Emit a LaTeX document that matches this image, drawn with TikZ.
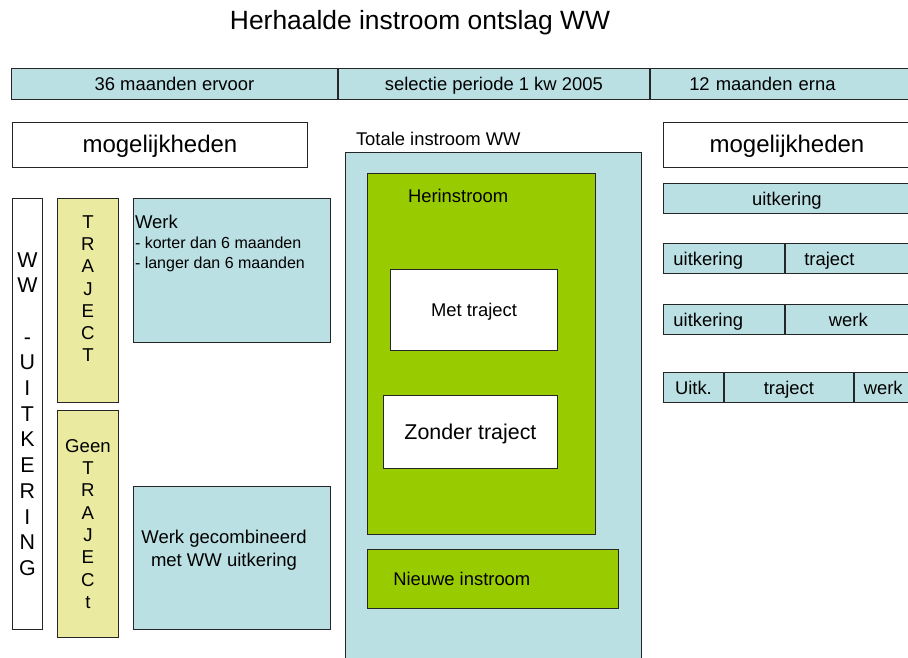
\documentclass[tikz,border=0pt]{standalone}
\usepackage{fontspec}
\setmainfont{Liberation Sans}
\usetikzlibrary{positioning}

\definecolor{lichtblauw}{HTML}{BBE0E3}
\definecolor{groen}{HTML}{99CC00}
\definecolor{geel}{HTML}{EAEAA0}

\newcommand{\fsz}[2]{\fontsize{#1}{#2}\selectfont}

\begin{document}
\begin{tikzpicture}[x=1pt, y=-1pt,
	vak/.style={rectangle, draw=black!85, line width=0.9pt, inner sep=0pt, text height=17.2pt, text depth=3.3pt, font=\fsz{18.4}{22}},
	blauw/.style={vak, fill=lichtblauw},
	groenvak/.style={vak, fill=groen},
	geelvak/.style={vak, fill=geel},
	wit/.style={vak, fill=white},
	groot/.style={font=\fsz{24}{28}, text height=21.2pt, text depth=5.6pt},
	middel/.style={font=\fsz{21.4}{25}, text height=19.4pt, text depth=4.5pt},
	tekst/.style={inner sep=0pt, outer sep=0pt, font=\fsz{18.4}{22}}]
	\useasboundingbox (0,0) rectangle (908,657);

	\node [tekst, font=\fsz{26.4}{30}, anchor=base] (titel) at (420,29.3) {Herhaalde instroom ontslag WW};

	% periodes
	\node [blauw, anchor=north west, minimum width=326, minimum height=31] (p1) at (11,68) {36 maanden ervoor};
	\node [blauw, right=0pt of p1, minimum width=311, minimum height=31] (p2) {selectie periode 1 kw 2005};
	\node [blauw, right=0pt of p2, minimum width=262, minimum height=31, text width=184, align=left] (p3) {12 maanden erna};

	\node [wit, groot, anchor=north west, minimum width=295, minimum height=45] (mog_l) at (12,122) {mogelijkheden};
	\node [wit, groot, anchor=north west, minimum width=247, minimum height=45] (mog_r) at (663,122) {mogelijkheden};

	% links
	\node [wit, anchor=north west, minimum width=30, minimum height=431] (ww) at (12,198) {};
	\node [geelvak, anchor=north west, minimum width=61, minimum height=204] (traj) at (57,198) {};
	\node [geelvak, anchor=north west, minimum width=61, minimum height=227] (geen) at (57,410) {};
	\node [blauw, anchor=north west, minimum width=197, minimum height=144] (werk) at (133,198) {};
	\node [blauw, anchor=north west, minimum width=197, minimum height=143] (werk_c) at (133,486) {};

	\node [tekst, below=54.3pt of ww.north, align=center, font=\fsz{21.4}{25.7}] (ww_t)
		{W\\W\\[25.7pt]-\\U\\I\\T\\K\\E\\R\\I\\N\\G};
	\node [tekst, below=17.3pt of traj.north, align=center, font=\fsz{18.6}{22.3}] (traj_t)
		{T\\R\\A\\J\\E\\C\\T};
	\node [tekst, below=29.3pt of geen.north, align=center, font=\fsz{18.6}{22.3}] (geen_t)
		{Geen\\T\\R\\A\\J\\E\\C\\t};
	\node [tekst, anchor=north west, align=left, font=\fsz{16}{20}] (werk_t) at (135,215)
		{{\fsz{18.5}{20}Werk}\\- korter dan 6 maanden\\- langer dan 6 maanden};
	\node [tekst, anchor=north, align=center, font=\fsz{18.5}{22.7}] (werk_c_t) at (224,530)
		{Werk gecombineerd\\met WW uitkering};

	% midden
	\node [blauw, anchor=north west, minimum width=296, minimum height=520] (totaal) at (345,152) {};
	\node [tekst, anchor=base west] (totaal_t) at (356,145) {Totale instroom WW};
	\node [groenvak, anchor=north west, minimum width=228, minimum height=361] (her) at (367,173) {};
	\node [tekst, anchor=base west] (her_t) at (408,202) {Herinstroom};
	\node [wit, anchor=north west, minimum width=167, minimum height=81] (met) at (390,269) {Met traject};
	\node [wit, middel, anchor=north west, minimum width=174, minimum height=73] (zonder) at (383,395) {Zonder traject};
	\node [groenvak, anchor=north west, minimum width=251, minimum height=59] (nieuw) at (367,549) {};
	\node [tekst, anchor=base west] (nieuw_t) at (393.3,585.7) {Nieuwe instroom};

	% rechts
	\node [blauw, anchor=north west, minimum width=247, minimum height=30] (r1) at (663,183) {uitkering};

	\node [blauw, anchor=north west, minimum width=121, minimum height=30, text width=101, align=left] (r2_a) at (663,243) {uitkering};
	\node [blauw, right=0pt of r2_a, minimum width=126, minimum height=30, text width=88, align=left] (r2_b) {traject};

	\node [blauw, anchor=north west, minimum width=121, minimum height=30, text width=101, align=left] (r3_a) at (663,304) {uitkering};
	\node [blauw, right=0pt of r3_a, minimum width=126, minimum height=30] (r3_b) {werk};

	\node [blauw, anchor=north west, minimum width=60, minimum height=30] (r4_a) at (663,372) {Uitk.};
	\node [blauw, right=0pt of r4_a, minimum width=129, minimum height=30] (r4_b) {traject};
	\node [blauw, right=0pt of r4_b, minimum width=58, minimum height=30] (r4_c) {werk};
\end{tikzpicture}
\end{document}
